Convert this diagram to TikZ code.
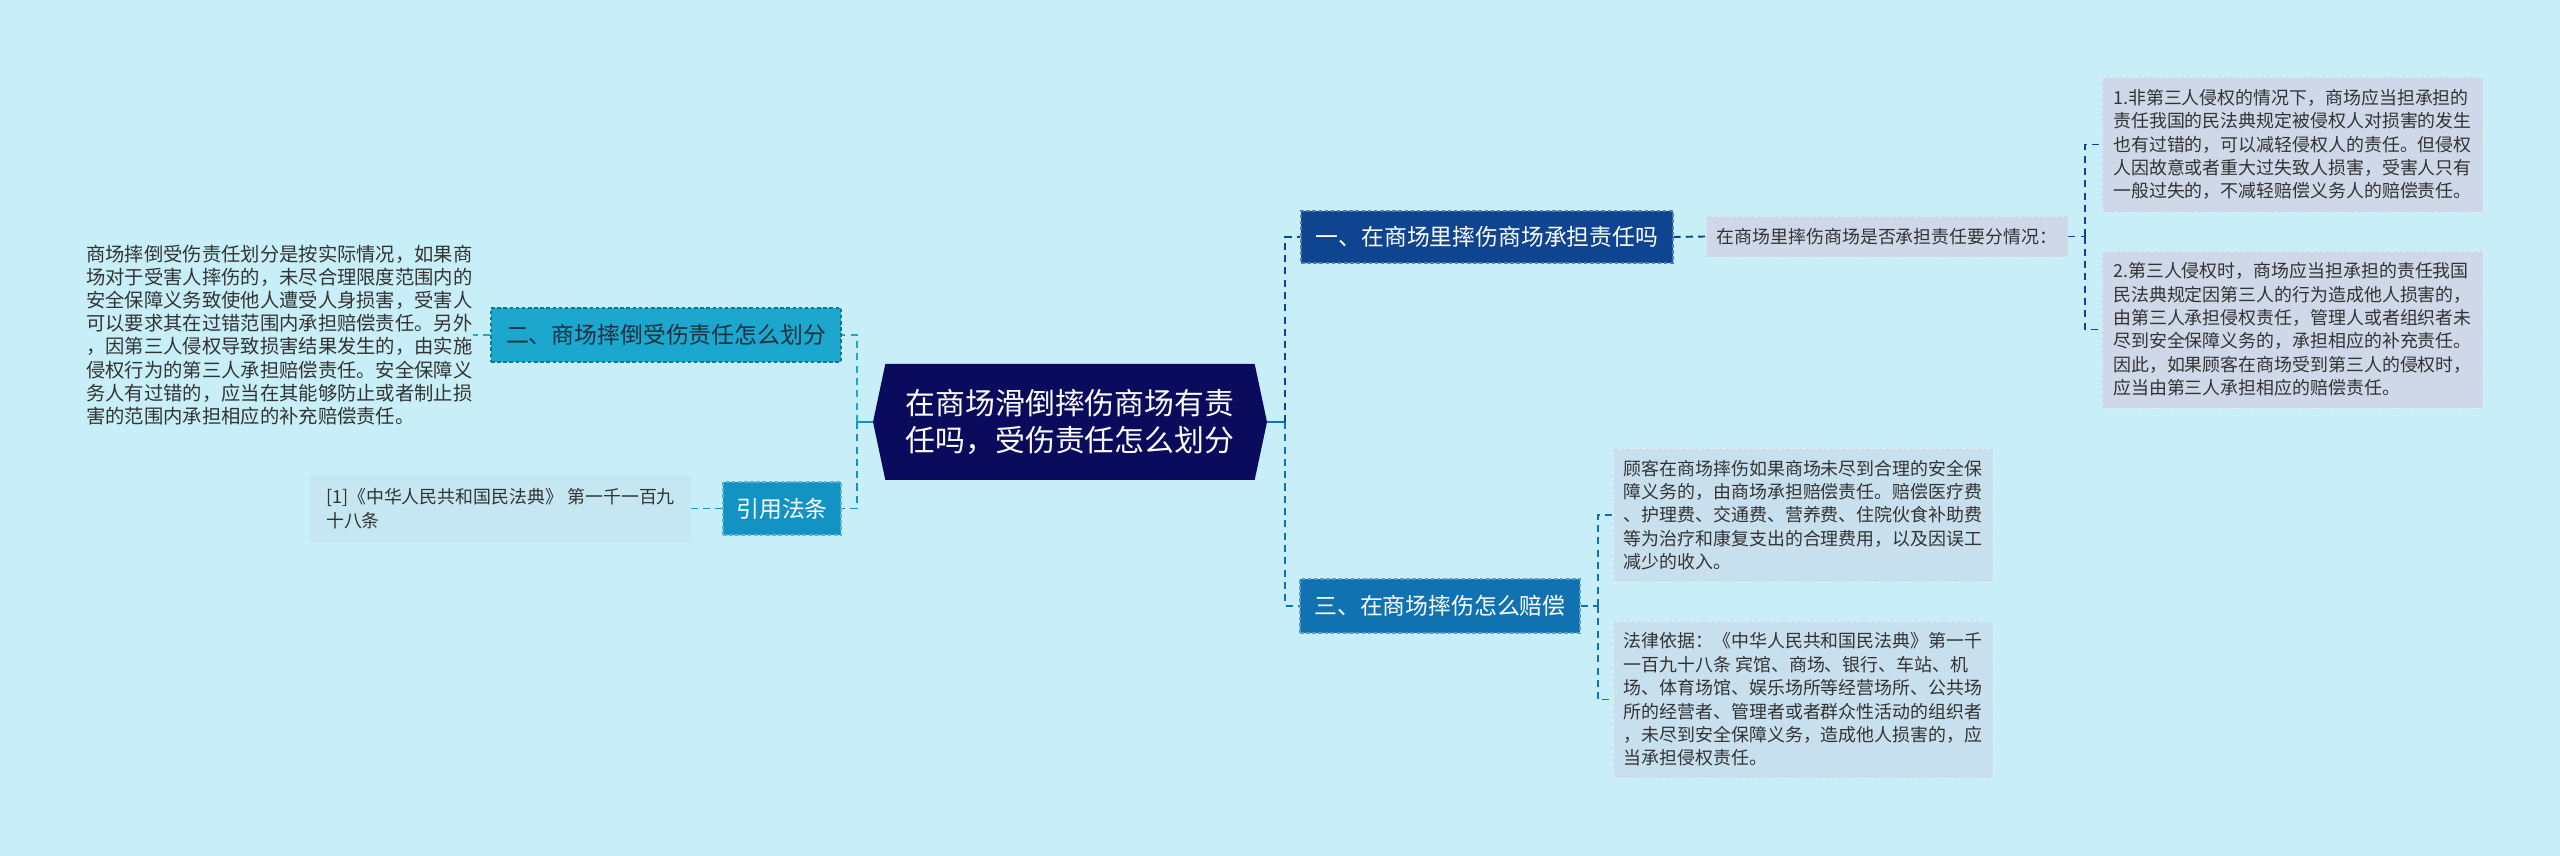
\documentclass[tikz,border=0pt]{standalone}
\usepackage{fontspec}
\setmainfont{Noto Sans CJK SC}
\usetikzlibrary{shapes.symbols}

\definecolor{bgcyan}{HTML}{C8EFF7}
\definecolor{rootnavy}{HTML}{0A0B5C}
\definecolor{onefill}{HTML}{0E4490}
\definecolor{threefill}{HTML}{1072B0}
\definecolor{twofill}{HTML}{1CA8CE}
\definecolor{citefill}{HTML}{1393C4}
\definecolor{greyleaf}{HTML}{CED8E8}
\definecolor{blueleaf}{HTML}{C8E0EE}
\definecolor{citeleaf}{HTML}{C5E7F1}
\definecolor{leaftext}{HTML}{333333}
\definecolor{twotext}{HTML}{1F2D3D}

\begin{document}
\begin{tikzpicture}
	\tikzstyle{every node}=[font=\fontsize{10.2pt}{13.3pt}\selectfont, text=leaftext]
	\tikzstyle{midbox}=[font=\fontsize{13pt}{16pt}\selectfont, inner sep=0pt, draw, line width=0.6pt, dash pattern=on 2pt off 1.5pt]
	\tikzstyle{leafbox}=[align=left, inner sep=0pt, draw, line width=0.5pt, dash pattern=on 2pt off 1.5pt]
	\tikzstyle{link}=[line width=1.1pt, dash pattern=on 4pt off 3pt]
	
	\fill[bgcyan] (0,0) rectangle (51.2,17.12);
	\useasboundingbox (0,0) rectangle (51.2,17.12);
	
	\node[signal, signal to=west and east, signal pointer angle=156, fill=rootnavy, text=white, align=center, inner sep=0pt, minimum width=7.88cm, minimum height=2.32cm, font=\fontsize{17pt}{21pt}\selectfont] (root) at (21.4,8.68) {在商场滑倒摔伤商场有责\\任吗，受伤责任怎么划分};
	
	\node[midbox, fill=onefill, draw=onefill!70!white, text=white, minimum width=7.44cm, minimum height=1.04cm] (one) at (29.74,12.38) {一、在商场里摔伤商场承担责任吗};
	\node[midbox, fill=threefill, draw=threefill!70!white, text=white, minimum width=5.6cm, minimum height=1.08cm] (three) at (28.8,5.0) {三、在商场摔伤怎么赔偿};
	\node[midbox, fill=twofill, draw=twofill!70!black, text=twotext, minimum width=7.0cm, minimum height=1.08cm] (two) at (13.32,10.42) {二、商场摔倒受伤责任怎么划分};
	\node[midbox, fill=citefill, draw=citefill!70!white, text=white, minimum width=2.36cm, minimum height=1.06cm] (cite) at (15.64,6.95) {引用法条};
	
	\node[leafbox, fill=greyleaf, draw=greyleaf!50!white, minimum width=7.24cm, minimum height=0.82cm] (ask) at (37.74,12.39) {在商场里摔伤商场是否承担责任要分情况：};
	\node[leafbox, fill=greyleaf, draw=greyleaf!50!white, minimum width=7.62cm, minimum height=2.7cm] (case1) at (45.85,14.23) {1.非第三人侵权的情况下，商场应当担承担的\\责任我国的民法典规定被侵权人对损害的发生\\也有过错的，可以减轻侵权人的责任。但侵权\\人因故意或者重大过失致人损害，受害人只有\\一般过失的，不减轻赔偿义务人的赔偿责任。};
	\node[leafbox, fill=greyleaf, draw=greyleaf!50!white, minimum width=7.62cm, minimum height=3.14cm] (case2) at (45.85,10.53) {2.第三人侵权时，商场应当担承担的责任我国\\民法典规定因第三人的行为造成他人损害的，\\由第三人承担侵权责任，管理人或者组织者未\\尽到安全保障义务的，承担相应的补充责任。\\因此，如果顾客在商场受到第三人的侵权时，\\应当由第三人承担相应的赔偿责任。};
	
	\node[leafbox, fill=blueleaf, draw=blueleaf!50!white, minimum width=7.6cm, minimum height=2.68cm] (pay) at (36.06,6.82) {顾客在商场摔伤如果商场未尽到合理的安全保\\障义务的，由商场承担赔偿责任。赔偿医疗费\\、护理费、交通费、营养费、住院伙食补助费\\等为治疗和康复支出的合理费用，以及因误工\\减少的收入。};
	\node[leafbox, fill=blueleaf, draw=blueleaf!50!white, minimum width=7.6cm, minimum height=3.14cm] (law) at (36.06,3.13) {法律依据：《中华人民共和国民法典》第一千\\一百九十八条 宾馆、商场、银行、车站、机\\场、体育场馆、娱乐场所等经营场所、公共场\\所的经营者、管理者或者群众性活动的组织者\\，未尽到安全保障义务，造成他人损害的，应\\当承担侵权责任。};
	
	\node[align=left, inner sep=0pt, anchor=east, font=\fontsize{11pt}{13.2pt}\selectfont] (split) at (9.46,10.42) {商场摔倒受伤责任划分是按实际情况，如果商\\场对于受害人摔伤的，未尽合理限度范围内的\\安全保障义务致使他人遭受人身损害，受害人\\可以要求其在过错范围内承担赔偿责任。另外\\，因第三人侵权导致损害结果发生的，由实施\\侵权行为的第三人承担赔偿责任。安全保障义\\务人有过错的，应当在其能够防止或者制止损\\害的范围内承担相应的补充赔偿责任。};
	\node[leafbox, fill=citeleaf, draw=none, minimum width=7.62cm, minimum height=1.34cm] (ref) at (10.01,6.95) {[1]《中华人民共和国民法典》 第一千一百九\\十八条};
	
	\draw[line width=1.1pt, threefill] (root.east) -- ++(0.36,0) coordinate (rj);
	\draw[link, onefill] (rj) |- (one.west);
	\draw[link, threefill] (rj) |- (three.west);
	
	\draw[line width=1.1pt, citefill] (root.west) -- ++(-0.32,0) coordinate (lj);
	\draw[link, twofill] (lj) |- (two.east);
	\draw[link, citefill] (lj) |- (cite.east);
	
	\draw[link, onefill] (one.east) -- (ask.west);
	\draw[link, onefill] (ask.east) -- ++(0.34,0) coordinate (aj);
	\draw[link, onefill] (aj) |- (case1.west);
	\draw[link, onefill] (aj) |- (case2.west);
	
	\draw[link, threefill] (three.east) -- ++(0.34,0) coordinate (tj);
	\draw[link, threefill] (tj) |- (pay.west);
	\draw[link, threefill] (tj) |- (law.west);
	
	\draw[link, twofill] (two.west) -- (split.east);
	\draw[link, citefill] (cite.west) -- (ref.east);
	
\end{tikzpicture}
\end{document}
